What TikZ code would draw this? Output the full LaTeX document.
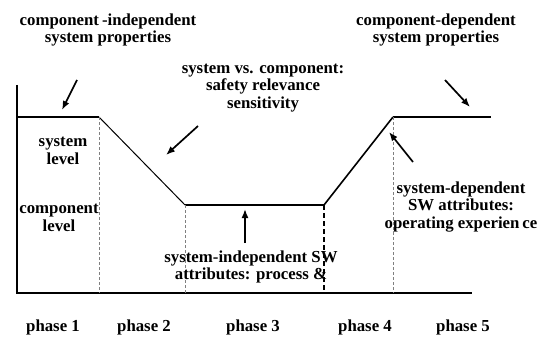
\documentclass[tikz,border=0pt]{standalone}
\usepackage{fontspec}
\setmainfont{Liberation Serif}
\usetikzlibrary{arrows,arrows.meta,positioning}
\tikzset{
  basic/.style   = {font=\fontsize{16.8}{17.5}\selectfont\bfseries, align=center,
                    inner sep=0pt},
  note/.style    = {basic},
  phase/.style   = {basic},
  axis/.style    = {line width=2pt},
  thick run/.style = {line width=2pt},
  thin run/.style  = {line width=1pt},
  divider/.style = {dash pattern=on 3pt off 2pt, gray, line width=0.8pt},
  pointer/.style = {-{Latex[length=9pt,width=7pt]}, line width=1.7pt}
}

\begin{document}
\begin{tikzpicture}[x=1pt, y=-1pt]
\useasboundingbox (0,0) rectangle (541,337);

% axes
\coordinate (top) at (17,85);
\coordinate (origin) at (17,293);
\coordinate (end) at (472,293);
\draw[axis] (top) -- (origin) -- (end);

% corners of the level curve
\coordinate (p0) at (17,117);
\coordinate (p1) at (99,117);
\coordinate (p2) at (185,205);
\coordinate (p3) at (324,205);
\coordinate (p4) at (393,117);
\coordinate (p5) at (491,117);

\draw[thick run] (p0) -- (p1);
\draw[thin run] (p1) -- (p2);
\draw[thick run] (p2) -- (p3);
\draw[line width=1.6pt] (p3) -- (p4);
\draw[thick run] (p4) -- (p5);

% phase borders
\foreach \value in {1,2,4}
  \draw[divider] (p\value) -- (p\value |- origin);
\draw[dash pattern=on 5pt off 3pt, line width=1.6pt] (p3) -- (p3 |- origin);

% texts
\node[note] (cind) at (108,30) {component\hspace{3pt}-independent\\ system properties};
\node[note] (cdep) at (436,30) {component-dependent\\ system properties};
\node[note] (svc) at (263,88) {system vs. component:\\ safety relevance\\ sensitivity};
\node[note] (sys) at (63,151) {system\\ level};
\node[note] (comp) at (59,218) {component\\ level};
\node[note] (sind) at (251,267) {system-independent SW\\ attributes: process \&};
\node[note] (sdep) at (461,207) {system-dependent\\ SW attributes:\\ operating experien\hspace{3pt}ce};

\foreach \x [count=\i] in {53,144,253,365,463}
  \node[phase] (ph\i) at (\x,327) {phase \i};

% pointers
\coordinate (a1) at (77,80);   \coordinate (b1) at (62,110);
\coordinate (a2) at (198,126); \coordinate (b2) at (166,155);
\coordinate (a3) at (245,243); \coordinate (b3) at (245,209);
\coordinate (a4) at (445,80);  \coordinate (b4) at (470,107);
\coordinate (a5) at (413,162); \coordinate (b5) at (389,132);
\foreach \value in {1,...,5}
  \draw[pointer] (a\value) -- (b\value);
\end{tikzpicture}
\end{document}
